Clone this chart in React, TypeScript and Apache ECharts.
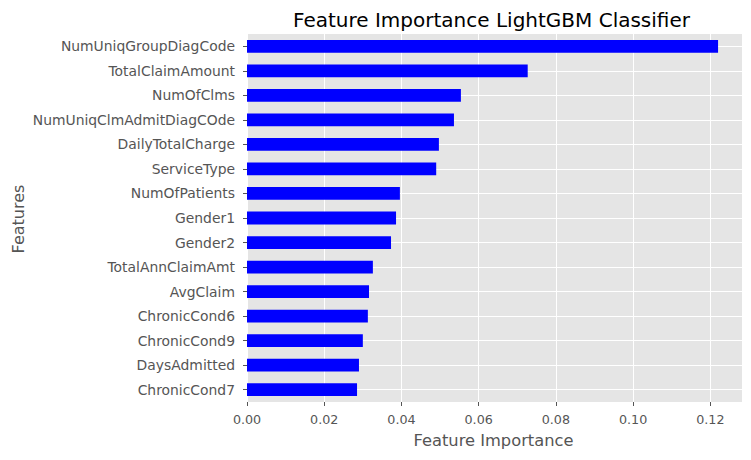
import React, { useEffect, useRef } from "react";
import * as echarts from "echarts";

const features = [
  "NumUniqGroupDiagCode",
  "TotalClaimAmount",
  "NumOfClms",
  "NumUniqClmAdmitDiagCOde",
  "DailyTotalCharge",
  "ServiceType",
  "NumOfPatients",
  "Gender1",
  "Gender2",
  "TotalAnnClaimAmt",
  "AvgClaim",
  "ChronicCond6",
  "ChronicCond9",
  "DaysAdmitted",
  "ChronicCond7",
];
const importance = [
  0.122, 0.0727, 0.0554, 0.0536, 0.0497, 0.049, 0.0396, 0.0386, 0.0373, 0.0326,
  0.0316, 0.0313, 0.03, 0.029, 0.0285,
];
const xTicks = [0, 0.02, 0.04, 0.06, 0.08, 0.1, 0.12];
const xMax = 0.1282;

const FONT = "DejaVu Sans";

export default function App() {
  const ref = useRef<HTMLDivElement>(null);
  useEffect(() => {
    if (!ref.current) return;
    const chart = echarts.init(ref.current, undefined, { renderer: "svg" });
    chart.setOption({
      animation: false,
      textStyle: { fontFamily: FONT },
      grid: {
        left: 247,
        right: 9,
        top: 34,
        bottom: 58,
        show: true,
        backgroundColor: "#E5E5E5",
        borderWidth: 0,
        containLabel: false,
      },
      graphic: [
        {
          type: "text",
          x: 491.5,
          y: 19.5,
          style: {
            text: "Feature Importance LightGBM Classifier",
            fontSize: 20,
            fontFamily: FONT,
            fill: "#000",
            align: "center",
            verticalAlign: "middle",
          },
        },
        {
          type: "text",
          x: 18,
          y: 219,
          rotation: Math.PI / 2,
          style: {
            text: "Features",
            fontSize: 16,
            fontFamily: FONT,
            fill: "#555555",
            align: "center",
            verticalAlign: "middle",
          },
        },
        {
          type: "text",
          x: 493.5,
          y: 440,
          style: {
            text: "Feature Importance",
            fontSize: 16.3,
            fontFamily: FONT,
            fill: "#555555",
            align: "center",
            verticalAlign: "middle",
          },
        },
      ],
      xAxis: {
        type: "value",
        min: 0,
        max: xMax,
        axisLine: { show: false },
        axisTick: {
          show: true,
          length: 4,
          lineStyle: { color: "#555555" },
          customValues: xTicks,
        },
        axisLabel: {
          customValues: xTicks,
          margin: 11,
          color: "#555555",
          fontSize: 12.7,
          fontFamily: FONT,
          formatter: (v: number) => v.toFixed(2),
        },
        splitLine: { show: true, lineStyle: { color: "#FFFFFF", width: 1 } },
      },
      yAxis: {
        type: "category",
        data: features,
        inverse: true,
        axisLine: { show: false },
        axisTick: {
          show: true,
          alignWithLabel: true,
          length: 4,
          lineStyle: { color: "#555555" },
        },
        axisLabel: {
          margin: 12,
          color: "#555555",
          fontSize: 13.9,
          fontFamily: FONT,
        },
        splitLine: {
          show: true,
          alignWithLabel: true,
          lineStyle: { color: "#FFFFFF", width: 1 },
        },
      },
      series: [
        {
          type: "bar",
          data: importance,
          barWidth: "52%",
          itemStyle: { color: "#0000FF" },
        },
      ],
    });
    return () => chart.dispose();
  }, []);
  return <div ref={ref} style={{ width: 751, height: 460, margin: -8 }} />;
}
